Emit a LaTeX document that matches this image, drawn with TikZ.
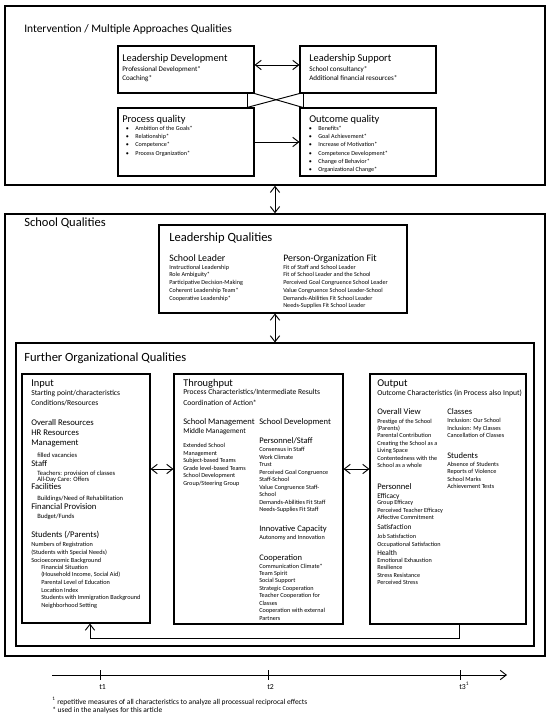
\documentclass[tikz,border=0pt]{standalone}
\usepackage{fontspec}
\setmainfont{Carlito}
\usetikzlibrary{arrows.meta}
\usetikzlibrary{fit}

\tikzset{
  outerbox/.style={draw, line width=1.1pt, inner sep=0pt},
  innerbox/.style={draw, line width=0.8pt, inner sep=0pt},
  txt/.style={anchor=base west, inner sep=0pt, align=left},
  fs/.style args={#1/#2}{font=\fontsize{#1}{#2}\selectfont},
  link/.style={line width=0.7pt, >={Straight Barb[length=4.5pt,width=7pt]}},
}
\newcommand{\bul}{\makebox[7.2pt][l]{\textbullet}}

\begin{document}
\begin{tikzpicture}[x=0.75pt,y=0.75pt,yscale=-1,xscale=1]
\useasboundingbox (0,0) rectangle (550,714);

%Intervention / Multiple Approaches Qualities
\node [outerbox, fit={(5,6) (545,185)}] (top) {};
\node [txt, fs=8.6/10] (toptitle) at (24,32) {Intervention / Multiple Approaches Qualities};

%multi-line texts are placed at the baseline of their last line
\node [innerbox, fit={(118,46) (254,93)}] (ld) {};
\node [txt, fs=7.8/9] (ldhead) at (122,61) {Leadership Development};
\node [txt, fs=5.3/6.1] (lditems) at (122,80.1) {Professional Development*\\Coaching*};

\node [innerbox, fit={(300,46) (436,93)}] (ls) {};
\node [txt, fs=7.8/9] (lshead) at (309,61) {Leadership Support};
\node [txt, fs=5.3/6.1] (lsitems) at (309,80.1) {School consultancy*\\Additional financial resources*};

\node [innerbox, fit={(118,108) (254,176)}] (pq) {};
\node [txt, fs=7.8/9] (pqhead) at (122,122) {Process quality};
\node [txt, fs=4.6/6.15] (pqitems) at (125.5,155.1) {\bul Ambition of the Goals*\\\bul Relationship*\\\bul Competence*\\\bul Process Organization*};

\node [innerbox, fit={(300,108) (436,176)}] (oq) {};
\node [txt, fs=7.8/9] (oqhead) at (309,122) {Outcome quality};
\node [txt, fs=4.6/6.15] (oqitems) at (308.5,171.5) {\bul Benefits*\\\bul Goal Achievement*\\\bul Increase of Motivation*\\\bul Competence Development*\\\bul Change of Behavior*\\\bul Organizational Change*};

%links between the approaches
\draw [link, <->] ([yshift=-3.4pt]ld.east) -- ([yshift=-3.4pt]ls.west);
\draw [link] (ld.south -| 247,0) -- (pq.north -| 247,0);
\draw [link] (ls.south -| 303,0) -- (oq.north -| 303,0);
\draw [link] (ld.south east) -- (oq.north -| 303,0);
\draw [link] (ls.south west) -- (pq.north -| 247,0);
\draw [link, ->] (pq.east) -- (oq.west);

%School Qualities
\node [outerbox, fit={(5,214) (545,656)}] (school) {};
\node [txt, fs=9.4/11] (schooltitle) at (24,226) {School Qualities};
\draw [link, <->] (top.south) -- (school.north);

%Leadership Qualities
\node [innerbox, fit={(159,225) (407,313)}] (lq) {};
\node [txt, fs=9.4/11] (lqtitle) at (169,241.5) {Leadership Qualities};
\node [txt, fs=7.4/9] (slhead) at (169,261) {School Leader};
\node [txt, fs=4.6/5.8] (slitems) at (169,300.1) {Instructional Leadership\\Role Ambiguity*\\Participative Decision-Making\\Coherent Leadership Team*\\Cooperative Leadership*};
\node [txt, fs=7.4/9] (pohead) at (283,261) {Person-Organization Fit};
\node [txt, fs=4.6/5.8] (poitems) at (283,307.9) {Fit of Staff and School Leader\\Fit of School Leader and the School\\Perceived Goal Congruence School Leader\\Value Congruence School Leader-School\\Demands-Abilities Fit School Leader\\Needs-Supplies Fit School Leader};

%Further Organizational Qualities
\node [innerbox, fit={(16,343) (534,646)}] (further) {};
\node [txt, fs=9.4/11] (furthertitle) at (24,361) {Further Organizational Qualities};
\draw [link, <->] (lq.south -| top.south) -- (further.north -| top.south);

%Input
\node [innerbox, fit={(22,374) (150,623)}] (inp) {};
\node [txt, fs=7.8/9] (inphead) at (31,386) {Input};
\node [txt, fs=5.7/7.5] (inplead) at (31,405.5) {Starting point/characteristics\\Conditions/Resources};
\node [txt, fs=6.5/7.5] (inpres) at (31,445.5) {Overall Resources\\HR Resources\\Management};
\node [txt, fs=4.9/6] (inpvac) at (37,457) {filled vacancies};
\node [txt, fs=6.5/7.5] (inpstaff) at (31,466.5) {Staff};
\node [txt, fs=4.9/4.5] (inpteach) at (37,481) {Teachers: provision of classes\\All-Day Care: Offers};
\node [txt, fs=6.5/7.5] (inpfac) at (31,489.5) {Facilities};
\node [txt, fs=4.9/6] (inpbuild) at (37,500) {Buildings/Need of Rehabilitation};
\node [txt, fs=6.5/7.5] (inpfin) at (31,509.5) {Financial Provision};
\node [txt, fs=4.9/6] (inpbudget) at (37,518) {Budget/Funds};
\node [txt, fs=6.5/7.5] (inpstud) at (31,537.5) {Students (/Parents)};
\node [txt, fs=4.7/6] (inpreg) at (31,562) {Numbers of Registration\\(Students with Special Needs)\\Socioeconomic Background};
\node [txt, fs=4.7/5.8] (inpses) at (41,607.7) {Financial Situation\\(Household Income, Social Aid)\\Parental Level of Education\\Location Index\\Students with Immigration Background\\Neighborhood Setting};

%Throughput
\node [innerbox, fit={(174,374) (343,624)}] (thr) {};
\node [txt, fs=7.8/9] (thrhead) at (183,386) {Throughput};
\node [txt, fs=5.7/8.25] (thrlead) at (183,405.5) {Process Characteristics/Intermediate Results\\Coordination of Action*};
\node [txt, fs=6.4/7.5] (smhead) at (183,424.5) {School Management};
\node [txt, fs=5.5/7] (mmhead) at (183,433) {Middle Management};
\node [txt, fs=4.65/5.6] (smitems) at (183,485.3) {Extended School\\Management\\Subject-based Teams\\Grade level-based Teams\\School Development\\Group/Steering Group};
\node [txt, fs=6.4/7.5] (sdhead) at (259,424.5) {School Development};
\node [txt, fs=6.4/7.5] (pshead) at (259,443.5) {Personnel/Staff};
\node [txt, fs=4.65/5.6] (psitems) at (259,511.7) {Consensus in Staff\\Work Climate\\Trust\\Perceived Goal Congruence\\Staff-School\\Value Congruence Staff-\\School\\Demands-Abilities Fit Staff\\Needs-Supplies Fit Staff};
\node [txt, fs=6.4/7.5] (ichead) at (259,531.5) {Innovative Capacity};
\node [txt, fs=4.65/5.6] (icitems) at (259,539) {Autonomy and Innovation};
\node [txt, fs=6.4/7.5] (cohead) at (259,560.5) {Cooperation};
\node [txt, fs=4.65/5.6] (coitems) at (259,620.3) {Communication Climate*\\Team Spirit\\Social Support\\Strategic Cooperation\\Teacher Cooperation for\\Classes\\Cooperation with external\\Partners};

%Output
\node [innerbox, fit={(370,374) (526,624)}] (out) {};
\node [txt, fs=7.8/9] (outhead) at (377,386) {Output};
\node [txt, fs=5.7/7.5] (outlead) at (377,395.5) {Outcome Characteristics (in Process also Input)};
\node [txt, fs=6.4/7.5] (ovhead) at (377,414.5) {Overall View};
\node [txt, fs=4.65/5.6] (ovitems) at (377,467.8) {Prestige of the School\\(Parents)\\Parental Contribution\\Creating the School as a\\Living Space\\Contentedness with the\\School as a whole};
\node [txt, fs=6.4/7.5] (clhead) at (447,414.5) {Classes};
\node [txt, fs=4.65/5.6] (clitems) at (447,437.9) {Inclusion: Our School\\Inclusion: My Classes\\Cancellation of Classes};
\node [txt, fs=6.4/7.5] (sthead) at (447,458.5) {Students};
\node [txt, fs=4.65/5.7] (stitems) at (447,488.8) {Absence of Students\\Reports of Violence\\School Marks\\Achievement Tests};
\node [txt, fs=6.4/7.5] (pehead) at (377,489.5) {Personnel};
\node [txt, fs=5.5/7] (efhead) at (377,498) {Efficacy};
\node [txt, fs=4.65/5.6] (efitems) at (377,519.9) {Group Efficacy\\Perceived Teacher Efficacy\\Affective Commitment};
\node [txt, fs=5.5/7] (sahead) at (377,529) {Satisfaction};
\node [txt, fs=4.65/6] (saitems) at (377,546) {Job Satisfaction\\Occupational Satisfaction};
\node [txt, fs=5.5/7] (hehead) at (377,555) {Health};
\node [txt, fs=4.65/5.7] (heitems) at (377,584.8) {Emotional Exhaustion\\Resilience\\Stress Resistance\\Perceived Stress};

%links between input, throughput and output
\coordinate (midrow) at (0,469);
\draw [link, <->] (inp.east |- midrow) -- (thr.west |- midrow);
\draw [link, <->] (thr.east |- midrow) -- (out.west |- midrow);
\coordinate (fbleft) at (90,638);
\coordinate (fbright) at (459,638);
\draw [link, ->] (out.south -| fbright) -- (fbright) -- (fbleft) -- (inp.south -| fbleft);

%time line
\coordinate (tstart) at (52,675);
\coordinate (tend) at (507,675);
\draw [link, ->] (tstart) -- (tend);
\foreach \tx in {100,268,460} {
  \draw [line width=0.7pt] (\tx,670) -- (\tx,680);
}
\node [txt, fs=5.8/7] (tone) at (99,689) {t1};
\node [txt, fs=5.8/7] (ttwo) at (267,689) {t2};
\node [txt, fs=5.8/7] (tthree) at (459,689) {t3\textsuperscript{1}};

%footnotes
\node [txt, fs=5.6/6] (notes) at (52,712) {\textsuperscript{1} repetitive measures of all characteristics to analyze all processual reciprocal effects\\* used in the analyses for this article};

\end{tikzpicture}
\end{document}
